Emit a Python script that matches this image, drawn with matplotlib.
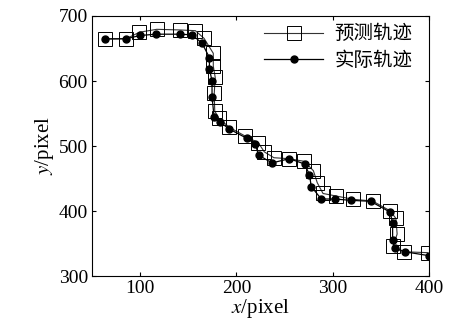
import matplotlib

matplotlib.use("Agg")
import matplotlib.pyplot as plt

# actual trajectory (filled dots)
actual_x = [64, 85.5, 100, 116.6, 141.5, 154, 164.4, 172, 172, 174.7, 174.7, 176.8, 183,
            192.7, 210.7, 219.7, 223, 237, 255, 271, 275.8, 277.9, 288.2, 302, 319.4,
            339.4, 359.5, 362.3, 362.3, 364.4, 374.7, 400.3]
actual_y = [664.6, 665, 670, 672, 672, 671, 658, 636, 618.5, 600, 576, 545, 537,
            526, 512, 503, 486, 474, 480.5, 472.3, 456, 437.4, 418.5, 418.5, 416.4,
            415, 398.5, 382, 356, 342.6, 337.4, 331.3]

# predicted trajectory (hollow squares)
pred_x = [64, 85.5, 99.3, 117.3, 141.5, 157.4, 166.4, 176, 176, 178, 177, 177.5, 181.7,
          192.7, 209, 222.8, 229, 239, 254.7, 270.6, 280, 284, 290, 304, 321.5,
          341.5, 359.5, 365.7, 367, 363, 374, 398.6]
pred_y = [665, 665, 675, 679.5, 678.5, 677.4, 665.6, 642.6, 623, 605.6, 581, 554, 542.6,
          528.7, 515.4, 505, 491, 482, 480.5, 476.4, 462, 443.6, 427, 423, 418,
          415.4, 400.5, 388.7, 364.6, 346.7, 337.4, 336]

x_ticks = [100, 200, 300, 400]
y_ticks = [300, 400, 500, 600, 700]

plt.rcParams["font.family"] = ["Liberation Serif", "Noto Sans CJK SC"]
plt.rcParams["mathtext.fontset"] = "stix"
plt.rcParams["axes.unicode_minus"] = False

fig = plt.figure(figsize=(4.51, 3.33), dpi=100)
ax = fig.add_axes([0.204, 0.171, 0.747, 0.781])

ax.plot(pred_x, pred_y, color="#333333", linewidth=0.8, marker="s", markersize=10,
        markerfacecolor="none", markeredgecolor="black", markeredgewidth=0.7, label="预测轨迹")
ax.plot(actual_x, actual_y, color="black", linewidth=0.9, marker="o", markersize=5,
        markerfacecolor="black", markeredgecolor="black", label="实际轨迹")

ax.set_xlim(50, 400)
ax.set_ylim(300, 700)
ax.set_xticks(x_ticks)
ax.set_yticks(y_ticks)
ax.tick_params(direction="in", top=True, right=True, labelsize=14, length=3, width=0.8, pad=3)
for spine in ax.spines.values():
    spine.set_linewidth(0.8)

ax.set_xlabel("$x$/pixel", fontsize=15, labelpad=0)
ax.set_ylabel("$y$/pixel", fontsize=15, labelpad=2)

leg = ax.legend(loc="upper right", bbox_to_anchor=(1.0, 1.035), frameon=False,
                handlelength=3.0, borderaxespad=0.45, labelspacing=0.3, handletextpad=0.6,
                prop={"family": ["Noto Sans CJK SC"], "size": 14})

fig.savefig("out.png", dpi=100)
